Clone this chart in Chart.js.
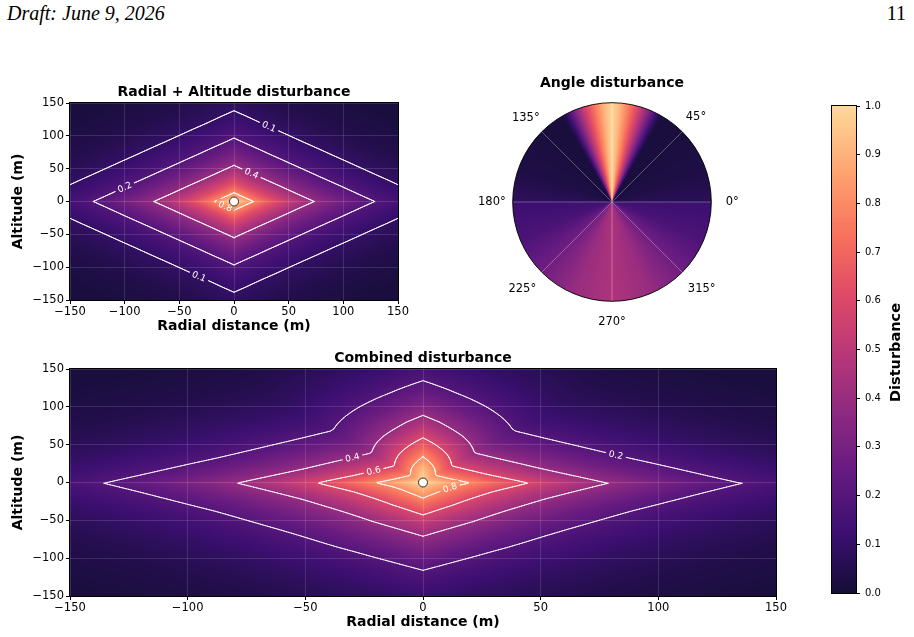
<!DOCTYPE html>
<html>
<head>
<meta charset="utf-8">
<title>Disturbance maps</title>
<script src="https://cdn.jsdelivr.net/npm/chart.js@4.4.1/dist/chart.umd.min.js"></script>
<style>
  html, body { margin: 0; padding: 0; background: #fff; }
  body { position: relative; width: 914px; height: 637px; overflow: hidden; }
  .head { position: absolute; top: 0; font-family: "Liberation Serif", serif; font-size: 20px; line-height: 26px; color: #000; }
  canvas { position: absolute; }
</style>
</head>
<body>
<div class="head" style="left:7px;font-style:italic">Draft: June 9, 2026</div>
<div class="head" style="right:8px">11</div>
<canvas id="radialAltChart" width="420" height="253" style="left:0;top:82px"></canvas>
<canvas id="angleChart" width="268" height="268" style="left:475px;top:68px"></canvas>
<canvas id="combinedChart" width="798" height="283" style="left:0;top:348px"></canvas>
<canvas id="colorbarChart" width="94" height="509" style="left:820px;top:95px"></canvas>
<script>
// ---- values ----
const axisTicks = [-150, -100, -50, 0, 50, 100, 150];
const colorbarTicks = [0, 0.1, 0.2, 0.3, 0.4, 0.5, 0.6, 0.7, 0.8, 0.9, 1.0];
const polarTickLabels = ['0°', '315°', '270°', '225°', '180°', '135°', '', '45°'];

// radial factor vs |radial distance| (m)
const radialDist = [0, 10, 20, 30, 40, 50, 60, 70, 80, 90, 100, 110, 120, 130, 140, 150];
const radialValue = [1.000, 0.882, 0.779, 0.687, 0.607, 0.535, 0.472, 0.417, 0.368, 0.325, 0.287, 0.253, 0.223, 0.197, 0.174, 0.153];
// altitude factor vs |altitude| (m)
const altitudeDist = [0, 10, 20, 30, 40, 50, 60, 70, 80, 90, 100, 110, 120, 130, 140, 150];
const altitudeValue = [1.000, 0.846, 0.717, 0.607, 0.513, 0.435, 0.368, 0.311, 0.264, 0.223, 0.189, 0.160, 0.135, 0.115, 0.097, 0.082];
// angle factor vs direction (deg, 0 = +radial, counter-clockwise)
const angleDeg = [0, 20, 45, 60, 62, 65, 70, 75, 80, 85, 90, 95, 100, 105, 110, 115, 118, 120, 135, 160,
  180, 180, 202.5, 225, 247.5, 270, 292.5, 315, 337.5, 360];
const angleValue = [0.07, 0.03, 0.02, 0.02, 0.07, 0.20, 0.41, 0.60, 0.76, 0.90, 1.00, 0.90, 0.76, 0.60, 0.41, 0.20, 0.07, 0.02, 0.02, 0.03,
  0.08, 0.12, 0.17, 0.28, 0.40, 0.46, 0.40, 0.28, 0.17, 0.12];
// how much of the angle factor applies at a given distance from the source (m)
const blendDist = [0, 20, 40, 60, 80, 100, 125, 150, 215];
const blendValue = [0, 0.27, 0.47, 0.61, 0.72, 0.80, 0.86, 0.91, 0.97];

const radialAltLevels = [0.1, 0.2, 0.4, 0.8];
const combinedLevels = [0.2, 0.4, 0.6, 0.8];
const sourcePoint = [{x: 0, y: 0}];

// contour label spots [level, x, approx y]
const radialAltLabelSpots = [[0.1, 32, 115], [0.2, -100, 22], [0.4, 16, 43], [0.8, -8, -7], [0.1, -32, -114]];
const combinedLabelSpots = [[0.4, -30, 33], [0.6, -21, 16.5], [0.8, 11.5, -7.7], [0.2, 82, 35]];
// gap between circle and each polar tick label (same order as polarTickLabels)
const polarLabelPads = [14.5, 8, 9, 8, 7, 3, 9, 5];

const FONT = 'DejaVu Sans';
Chart.defaults.font.family = FONT;
Chart.defaults.color = '#000';
Chart.defaults.plugins.legend.display = false;
Chart.defaults.plugins.tooltip.enabled = false;

// magma, trimmed at both ends like the figure's colorbar
const magmaStops = ['#000004', '#140e36', '#3b0f70', '#641a80', '#8c2981', '#b73779',
  '#de4968', '#f7705c', '#fe9f6d', '#fecf92', '#fcfdbf'].map(function (h) {
  return [parseInt(h.slice(1, 3), 16), parseInt(h.slice(3, 5), 16), parseInt(h.slice(5, 7), 16)];
});
const lut = [];
for (let k = 0; k < 256; k++) {
  const p = (0.1 + 0.82 * k / 255) * 10;
  const i = Math.min(9, Math.floor(p));
  const f = p - i;
  lut.push([0, 1, 2].map(function (c) {
    return Math.round(magmaStops[i][c] + (magmaStops[i + 1][c] - magmaStops[i][c]) * f);
  }));
}
function colorOf(v) {
  return lut[Math.max(0, Math.min(255, Math.round(v * 255)))];
}

function interp(xs, ys, x) {
  if (x <= xs[0]) return ys[0];
  for (let i = 1; i < xs.length; i++) {
    if (x <= xs[i]) {
      const span = xs[i] - xs[i - 1];
      if (span === 0) return ys[i];
      return ys[i - 1] + (ys[i] - ys[i - 1]) * (x - xs[i - 1]) / span;
    }
  }
  return ys[ys.length - 1];
}
// decays are read in log space so the contours stay straight between samples
const radialLog = radialValue.map(Math.log);
const altitudeLog = altitudeValue.map(Math.log);

function angleAt(deg) {
  return interp(angleDeg, angleValue, ((deg % 360) + 360) % 360);
}
function radialAlt(x, y) {
  return Math.exp(interp(radialDist, radialLog, Math.abs(x)) + interp(altitudeDist, altitudeLog, Math.abs(y)));
}
function combined(x, y) {
  const deg = Math.atan2(y, x) * 180 / Math.PI;
  const blend = interp(blendDist, blendValue, Math.hypot(x, y));
  return radialAlt(x, y) * (1 + angleAt(deg) * blend);
}

function snapToLevel(field, level, x0, y0) {
  let best = null;
  for (let y = y0 - 25; y < y0 + 25; y += 0.1) {
    const a = field(x0, y) - level, b = field(x0, y + 0.1) - level;
    if (a * b <= 0 && a !== b) {
      const yc = y + 0.1 * a / (a - b);
      if (best === null || Math.abs(yc - y0) < Math.abs(best - y0)) best = yc;
    }
  }
  return best === null ? y0 : best;
}

function drawFrame(ctx, a) {
  ctx.save();
  ctx.strokeStyle = '#000';
  ctx.lineWidth = 1;
  ctx.strokeRect(a.left - 0.5, a.top - 0.5, a.right - a.left + 1, a.bottom - a.top + 1);
  ctx.restore();
}

// heatmap + contour lines drawn through the chart's x / y scales
function fieldPlugin(field, levels, labelSpots) {
  return {
    id: 'fieldmap',
    beforeDraw(chart) {
      const ctx = chart.ctx;
      const area = chart.chartArea;
      const xs = chart.scales.x, ys = chart.scales.y;
      const left = Math.round(area.left), top = Math.round(area.top);
      const w = Math.round(area.right) - left, h = Math.round(area.bottom) - top;

      const off = document.createElement('canvas');
      off.width = w; off.height = h;
      const octx = off.getContext('2d');
      const img = octx.createImageData(w, h);
      for (let j = 0; j < h; j++) {
        const vy = ys.getValueForPixel(top + j + 0.5);
        for (let i = 0; i < w; i++) {
          const c = colorOf(field(xs.getValueForPixel(left + i + 0.5), vy));
          const k = 4 * (j * w + i);
          img.data[k] = c[0]; img.data[k + 1] = c[1]; img.data[k + 2] = c[2]; img.data[k + 3] = 255;
        }
      }
      octx.putImageData(img, 0, 0);
      ctx.drawImage(off, left, top);

      // sample grid for contours
      const step = 1;
      const nx = Math.round((xs.max - xs.min) / step), ny = Math.round((ys.max - ys.min) / step);
      const g = new Float64Array((nx + 1) * (ny + 1));
      for (let j = 0; j <= ny; j++) {
        for (let i = 0; i <= nx; i++) g[j * (nx + 1) + i] = field(xs.min + i * step, ys.min + j * step);
      }

      // label placement
      ctx.font = '9px "' + FONT + '"';
      const fp = function (px, py) { return field(xs.getValueForPixel(px), ys.getValueForPixel(py)); };
      const spots = labelSpots.map(function (s) {
        const ly = snapToLevel(field, s[0], s[1], s[2]);
        const px = xs.getPixelForValue(s[1]), py = ys.getPixelForValue(ly);
        const gx = fp(px + 1.5, py) - fp(px - 1.5, py);
        const gy = fp(px, py + 1.5) - fp(px, py - 1.5);
        let ang = Math.atan2(gx, -gy);
        if (ang > Math.PI / 2) ang -= Math.PI;
        if (ang < -Math.PI / 2) ang += Math.PI;
        const text = String(s[0]);
        return {px: px, py: py, ang: ang, text: text, hw: ctx.measureText(text).width / 2 + 3, hh: 5.5};
      });

      ctx.save();
      ctx.beginPath();
      ctx.rect(left, top, w, h);
      spots.forEach(function (s) {
        const c = Math.cos(s.ang), sn = Math.sin(s.ang);
        [[-s.hw, -s.hh], [s.hw, -s.hh], [s.hw, s.hh], [-s.hw, s.hh]].forEach(function (p, idx) {
          const X = s.px + p[0] * c - p[1] * sn, Y = s.py + p[0] * sn + p[1] * c;
          if (idx === 0) ctx.moveTo(X, Y); else ctx.lineTo(X, Y);
        });
        ctx.closePath();
      });
      ctx.clip('evenodd');

      ctx.strokeStyle = 'rgba(255,255,255,0.93)';
      ctx.lineWidth = 1;
      ctx.lineCap = 'round';
      ctx.beginPath();
      levels.forEach(function (level) {
        const L = level + 1e-9;
        for (let j = 0; j < ny; j++) {
          for (let i = 0; i < nx; i++) {
            const a = g[j * (nx + 1) + i], b = g[j * (nx + 1) + i + 1];
            const c = g[(j + 1) * (nx + 1) + i + 1], d = g[(j + 1) * (nx + 1) + i];
            const X0 = xs.min + i * step, Y0 = ys.min + j * step;
            const pts = [];
            if ((a - L) * (b - L) < 0) pts.push([X0 + step * (L - a) / (b - a), Y0]);
            if ((b - L) * (c - L) < 0) pts.push([X0 + step, Y0 + step * (L - b) / (c - b)]);
            if ((d - L) * (c - L) < 0) pts.push([X0 + step * (L - d) / (c - d), Y0 + step]);
            if ((a - L) * (d - L) < 0) pts.push([X0, Y0 + step * (L - a) / (d - a)]);
            for (let k = 0; k + 1 < pts.length; k += 2) {
              ctx.moveTo(xs.getPixelForValue(pts[k][0]), ys.getPixelForValue(pts[k][1]));
              ctx.lineTo(xs.getPixelForValue(pts[k + 1][0]), ys.getPixelForValue(pts[k + 1][1]));
            }
          }
        }
      });
      ctx.stroke();
      ctx.restore();

      spots.forEach(function (s) {
        ctx.save();
        ctx.translate(s.px, s.py);
        ctx.rotate(s.ang);
        ctx.fillStyle = '#fff';
        ctx.textAlign = 'center';
        ctx.textBaseline = 'middle';
        ctx.fillText(s.text, 0, 0.5);
        ctx.restore();
      });
    },
    afterDraw(chart) {
      drawFrame(chart.ctx, chart.chartArea);
    }
  };
}

function xyScales(xTitle, yTitle) {
  const tickFont = {family: FONT, size: 11.5};
  const titleFont = {family: FONT, size: 14, weight: 'bold', lineHeight: 1.2};
  const minus = function (v) { return String(v).replace('-', '\u2212'); };
  const grid = function () {
    return {color: 'rgba(255,255,255,0.13)', lineWidth: 1, tickColor: '#000', tickLength: 4, tickWidth: 1};
  };
  return {
    x: {
      type: 'linear', min: -150, max: 150,
      afterBuildTicks: function (s) { s.ticks = axisTicks.map(function (v) { return {value: v}; }); },
      afterFit: function (s) { s.height = 35; },
      ticks: {font: tickFont, color: '#000', padding: 1, maxRotation: 0, autoSkip: false, callback: minus},
      grid: grid(),
      border: {display: false},
      title: {display: true, text: xTitle, font: titleFont, color: '#000', padding: 0}
    },
    y: {
      type: 'linear', min: -150, max: 150,
      afterBuildTicks: function (s) { s.ticks = axisTicks.map(function (v) { return {value: v}; }); },
      afterFit: function (s) { s.width = 70; },
      ticks: {font: tickFont, color: '#000', padding: 2, autoSkip: false, callback: minus},
      grid: grid(),
      border: {display: false},
      title: {display: true, text: yTitle, font: titleFont, color: '#000', padding: {top: 9.6, bottom: 0}}
    }
  };
}

function chartTitle(text) {
  return {
    display: true, text: text, fullSize: false, color: '#000',
    font: {family: FONT, size: 14, weight: 'bold', lineHeight: 1.2},
    padding: {top: 2, bottom: 2.2}
  };
}

const markerDataset = {
  data: sourcePoint,
  pointRadius: 4.5,
  pointBackgroundColor: '#fff',
  pointBorderColor: '#000',
  pointBorderWidth: 0.8
};

document.addEventListener('DOMContentLoaded', function () {

  // Radial + Altitude
  new Chart(document.getElementById('radialAltChart'), {
    type: 'scatter',
    data: {datasets: [Object.assign({}, markerDataset)]},
    options: {
      responsive: false, animation: false, events: [],
      layout: {padding: {left: 0, right: 22, top: 0, bottom: 0}},
      plugins: {title: chartTitle('Radial + Altitude disturbance')},
      scales: xyScales('Radial distance (m)', 'Altitude (m)')
    },
    plugins: [fieldPlugin(radialAlt, radialAltLevels, radialAltLabelSpots)]
  });

  // Angle (polar)
  new Chart(document.getElementById('angleChart'), {
    type: 'radar',
    data: {labels: polarTickLabels, datasets: []},
    options: {
      responsive: false, animation: false, events: [],
      layout: {padding: 0},
      scales: {
        r: {
          min: 0, max: 1, startAngle: 90,
          ticks: {display: false},
          grid: {display: false},
          angleLines: {display: true, color: 'rgba(255,255,255,0.3)', lineWidth: 1},
          pointLabels: {
            display: true, color: '#000', font: {family: FONT, size: 11.5, lineHeight: 2.0},
            padding: function (c) { return polarLabelPads[c.index]; }
          }
        }
      }
    },
    plugins: [{
      id: 'anglemap',
      beforeDraw(chart) {
        const ctx = chart.ctx;
        const r = chart.scales.r;
        const cx = r.xCenter, cy = r.yCenter, R = r.drawingArea;
        const x0 = Math.floor(cx - R) - 1, y0 = Math.floor(cy - R) - 1;
        const size = Math.ceil(2 * R) + 3;
        const off = document.createElement('canvas');
        off.width = size; off.height = size;
        const octx = off.getContext('2d');
        const img = octx.createImageData(size, size);
        for (let j = 0; j < size; j++) {
          for (let i = 0; i < size; i++) {
            const dx = x0 + i + 0.5 - cx, dy = cy - (y0 + j + 0.5);
            if (Math.hypot(dx, dy) > R + 1.5) continue;
            const c = colorOf(angleAt(Math.atan2(dy, dx) * 180 / Math.PI));
            const k = 4 * (j * size + i);
            img.data[k] = c[0]; img.data[k + 1] = c[1]; img.data[k + 2] = c[2]; img.data[k + 3] = 255;
          }
        }
        octx.putImageData(img, 0, 0);
        ctx.save();
        ctx.beginPath();
        ctx.arc(cx, cy, R, 0, Math.PI * 2);
        ctx.clip();
        ctx.drawImage(off, x0, y0);
        ctx.restore();
      },
      afterDraw(chart) {
        const ctx = chart.ctx;
        const r = chart.scales.r;
        ctx.save();
        ctx.strokeStyle = '#000';
        ctx.lineWidth = 0.9;
        ctx.beginPath();
        ctx.arc(r.xCenter, r.yCenter, r.drawingArea, 0, Math.PI * 2);
        ctx.stroke();
        ctx.fillStyle = '#000';
        ctx.font = 'bold 14px "' + FONT + '"';
        ctx.textAlign = 'center';
        ctx.textBaseline = 'middle';
        ctx.fillText('Angle disturbance', r.xCenter, r.yCenter - r.drawingArea - 19);
        ctx.restore();
      }
    }]
  });

  // Combined
  new Chart(document.getElementById('combinedChart'), {
    type: 'scatter',
    data: {datasets: [Object.assign({}, markerDataset)]},
    options: {
      responsive: false, animation: false, events: [],
      layout: {padding: {left: 0, right: 22, top: 0, bottom: 0}},
      plugins: {title: chartTitle('Combined disturbance')},
      scales: xyScales('Radial distance (m)', 'Altitude (m)')
    },
    plugins: [fieldPlugin(combined, combinedLevels, combinedLabelSpots)]
  });

  // Colorbar
  new Chart(document.getElementById('colorbarChart'), {
    type: 'scatter',
    data: {datasets: []},
    options: {
      responsive: false, animation: false, events: [],
      layout: {padding: {left: 12, right: 0, top: 8, bottom: 8}},
      scales: {
        x: {display: false, min: 0, max: 1},
        y: {
          position: 'right', min: 0, max: 1,
          afterBuildTicks: function (s) { s.ticks = colorbarTicks.map(function (v) { return {value: v}; }); },
          afterFit: function (s) { s.width = 58; },
          ticks: {font: {family: FONT, size: 10}, color: '#000', padding: 5, autoSkip: false,
            callback: function (v) { return v.toFixed(1); }},
          grid: {display: true, drawOnChartArea: false, tickColor: '#000', tickLength: 4, tickWidth: 1},
          border: {display: false}
        }
      }
    },
    plugins: [{
      id: 'colorbar',
      beforeDraw(chart) {
        const ctx = chart.ctx, a = chart.chartArea, y = chart.scales.y;
        for (let py = Math.round(a.top); py < Math.round(a.bottom); py++) {
          const c = colorOf(y.getValueForPixel(py + 0.5));
          ctx.fillStyle = 'rgb(' + c[0] + ',' + c[1] + ',' + c[2] + ')';
          ctx.fillRect(a.left, py, a.right - a.left, 1);
        }
      },
      afterDraw(chart) {
        const ctx = chart.ctx, a = chart.chartArea;
        drawFrame(ctx, a);
        ctx.save();
        ctx.translate(76, (a.top + a.bottom) / 2 + 3);
        ctx.rotate(-Math.PI / 2);
        ctx.fillStyle = '#000';
        ctx.font = 'bold 14.5px "' + FONT + '"';
        ctx.textAlign = 'center';
        ctx.textBaseline = 'middle';
        ctx.fillText('Disturbance', 0, 0);
        ctx.restore();
      }
    }]
  });

});
</script>
</body>
</html>
